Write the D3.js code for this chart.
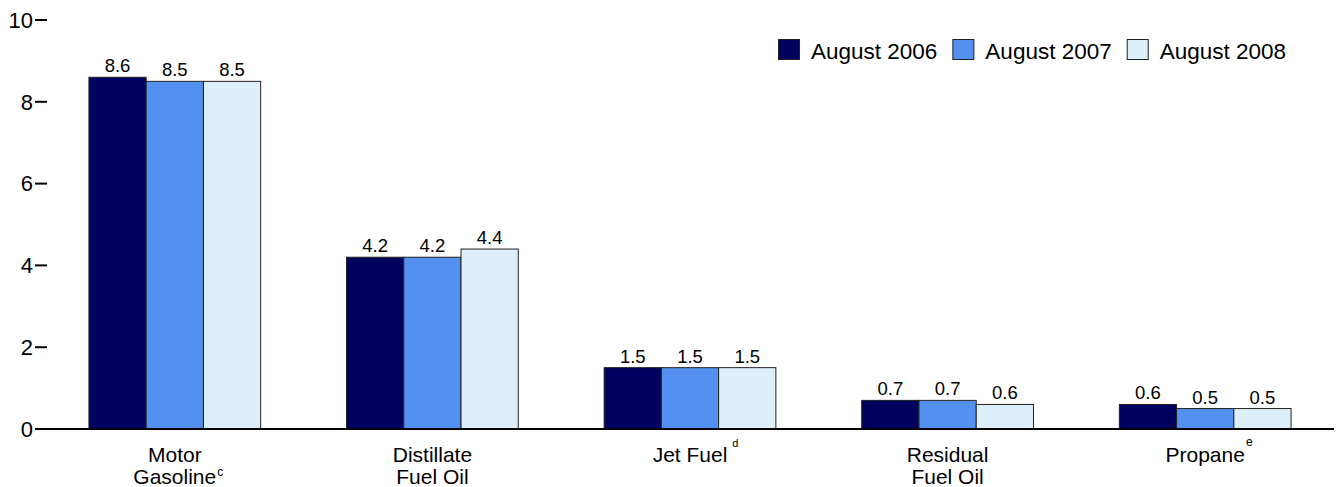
<!DOCTYPE html>
<html>
<head>
<meta charset="utf-8">
<script src="https://cdn.jsdelivr.net/npm/d3@7"></script>
<style>
  html, body { margin: 0; padding: 0; background: #fff; }
  svg { display: block; font-family: "Liberation Sans", Arial, sans-serif; }
</style>
</head>
<body>
<svg id="chart" width="1341" height="487"></svg>
<script>
const categories = ["Motor Gasoline", "Distillate Fuel Oil", "Jet Fuel", "Residual Fuel Oil", "Propane"];
const categoryLines = [["Motor", "Gasoline"], ["Distillate", "Fuel Oil"], ["Jet Fuel"], ["Residual", "Fuel Oil"], ["Propane"]];
const categoryNotes = ["c", "", "d", "", "e"];
const seriesNames = ["August 2006", "August 2007", "August 2008"];
const aug2006 = [8.6, 4.2, 1.5, 0.7, 0.6];
const aug2007 = [8.5, 4.2, 1.5, 0.7, 0.5];
const aug2008 = [8.5, 4.4, 1.5, 0.6, 0.5];
const yTicks = [0, 2, 4, 6, 8, 10];
const colors = ["#00005E", "#5291EF", "#DEEFFC"];

// superscript styling (not data)
const noteStyle = {
  c: { size: 12, dx: 1, dy: -8 },
  d: { size: 11, dx: 5, dy: -15 },
  e: { size: 12, dx: 1, dy: -16 }
};

const seriesValues = [aug2006, aug2007, aug2008];
const svg = d3.select("#chart");

const x = d3.scaleBand().domain(categories).range([46, 1334]).paddingInner(1/3).paddingOuter(1/6);
const xs = d3.scaleBand().domain(seriesNames).range([0, x.bandwidth()]);
const y = d3.scaleLinear().domain([0, 10]).range([429, 20]);

// Y axis ticks
const yAxis = svg.append("g");
yAxis.selectAll("line.tick").data(yTicks).join("line")
  .attr("x1", 35).attr("x2", 47)
  .attr("y1", d => y(d)).attr("y2", d => y(d))
  .attr("stroke", "#000").attr("stroke-width", 2);
yAxis.selectAll("text").data(yTicks).join("text")
  .attr("x", 33).attr("y", d => y(d)).attr("dy", "0.35em")
  .attr("text-anchor", "end").attr("font-size", 22).attr("fill", "#000")
  .text(d => d);

const catFont = 21;
const line1 = 461.5, lineGap = 22.2;
// Bars
categories.forEach((cat, ci) => {
  const g = svg.append("g").attr("transform", `translate(${x(cat)},0)`);
  seriesNames.forEach((s, si) => {
    const v = seriesValues[si][ci];
    g.append("rect")
      .attr("x", xs(s)).attr("y", y(v))
      .attr("width", xs.bandwidth()).attr("height", y(0) - y(v))
      .attr("fill", colors[si]).attr("stroke", "#222").attr("stroke-width", 1);
    g.append("text")
      .attr("x", xs(s) + xs.bandwidth() / 2).attr("y", y(v) - 5)
      .attr("text-anchor", "middle").attr("font-size", 18.5).attr("fill", "#000")
      .text(v.toFixed(1));
  });
  // Category label, one text per line
  const cx = x(cat) + x.bandwidth() / 2;
  const lines = categoryLines[ci];
  let lastW = 0;
  lines.forEach((ln, li) => {
    const t = svg.append("text").attr("text-anchor", "middle").attr("font-size", catFont)
      .attr("fill", "#000").attr("x", cx).attr("y", line1 + li * lineGap).text(ln);
    lastW = t.node().getComputedTextLength();
  });
  const note = categoryNotes[ci];
  if (note) {
    const st = noteStyle[note];
    const last = lines.length - 1;
    svg.append("text")
      .attr("x", cx + lastW / 2 + st.dx)
      .attr("y", line1 + last * lineGap + st.dy)
      .attr("font-size", st.size).attr("fill", "#000")
      .text(note);
  }
});

// Baseline
svg.append("line").attr("x1", 35).attr("x2", 1334)
  .attr("y1", y(0)).attr("y2", y(0))
  .attr("stroke", "#000").attr("stroke-width", 2);

// Legend
const legend = svg.append("g");
let lx = 778;
seriesNames.forEach((s, i) => {
  legend.append("rect").attr("x", lx + 0.5).attr("y", 39.5).attr("width", 21).attr("height", 20)
    .attr("fill", colors[i]).attr("stroke", "#222").attr("stroke-width", 1);
  const t = legend.append("text").attr("x", lx + 33).attr("y", 59)
    .attr("font-size", 22.5).attr("fill", "#000").text(s);
  lx += 33 + t.node().getComputedTextLength() + 15;
});
</script>
</body>
</html>
